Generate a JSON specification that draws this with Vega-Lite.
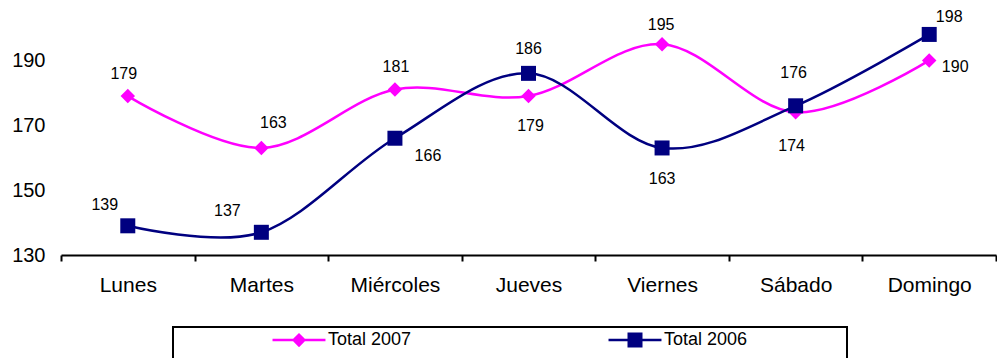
{
  "$schema": "https://vega.github.io/schema/vega-lite/v6.json",
  "width": 935,
  "height": 253,
  "autosize": "none",
  "padding": {"left": 61, "top": 2, "right": 1, "bottom": 103},
  "background": "white",
  "config": {
    "view": {"stroke": null},
    "font": "Liberation Sans",
    "text": {"font": "Liberation Sans", "fontSize": 16, "color": "black"}
  },
  "data": {
    "values": [
      {"day": "Lunes", "series": "Total 2007", "value": 179},
      {"day": "Martes", "series": "Total 2007", "value": 163},
      {"day": "Miércoles", "series": "Total 2007", "value": 181},
      {"day": "Jueves", "series": "Total 2007", "value": 179},
      {"day": "Viernes", "series": "Total 2007", "value": 195},
      {"day": "Sábado", "series": "Total 2007", "value": 174},
      {"day": "Domingo", "series": "Total 2007", "value": 190},
      {"day": "Lunes", "series": "Total 2006", "value": 139},
      {"day": "Martes", "series": "Total 2006", "value": 137},
      {"day": "Miércoles", "series": "Total 2006", "value": 166},
      {"day": "Jueves", "series": "Total 2006", "value": 186},
      {"day": "Viernes", "series": "Total 2006", "value": 163},
      {"day": "Sábado", "series": "Total 2006", "value": 176},
      {"day": "Domingo", "series": "Total 2006", "value": 198}
    ]
  },
  "encoding": {
    "x": {
      "field": "day", "type": "nominal",
      "scale": {"type": "band", "domain": ["Lunes", "Martes", "Miércoles", "Jueves", "Viernes", "Sábado", "Domingo"], "paddingInner": 0, "paddingOuter": 0},
      "axis": {
        "title": null, "labelAngle": 0, "labelFontSize": 21, "labelFont": "Liberation Sans", "labelColor": "black",
        "labelPadding": 13, "domainColor": "black", "domainWidth": 2, "tickColor": "black", "tickWidth": 2,
        "tickSize": 6, "tickBand": "extent", "grid": false
      }
    },
    "y": {
      "field": "value", "type": "quantitative",
      "scale": {"domain": [130, 208], "nice": false, "zero": false},
      "axis": {
        "title": null, "values": [130, 150, 170, 190], "domain": false, "ticks": false, "grid": false,
        "labelFontSize": 20, "labelFont": "Liberation Sans", "labelColor": "black", "labelPadding": 16
      }
    }
  },
  "layer": [
    {
      "mark": {"type": "line", "interpolate": "cardinal", "strokeWidth": 2.5},
      "encoding": {
        "color": {
          "field": "series", "type": "nominal",
          "scale": {"domain": ["Total 2007", "Total 2006"], "range": ["#FF00FF", "#000080"]},
          "legend": {
            "title": "\u00a0\u00a0\u200b", "titleOrient": "bottom", "titlePadding": 6, "titleFontSize": 12,
            "orient": "none", "legendX": 112, "legendY": 325, "direction": "horizontal",
            "padding": 4, "strokeColor": "black",
            "symbolSize": 225, "symbolOffset": 113, "labelOffset": 20, "columnPadding": 6,
            "labelFontSize": 18, "labelFont": "Liberation Sans", "labelColor": "black", "labelLimit": 400,
            "labelExpr": "datum.label + '\u00a0\u00a0\u00a0\u00a0\u00a0\u00a0\u00a0\u00a0\u00a0\u00a0\u00a0\u00a0\u00a0\u00a0\u00a0\u00a0\u00a0\u00a0\u00a0\u200b'",
            "encode": {
              "legend": {"update": {"strokeWidth": {"value": 2}}},
              "symbols": {
                "update": {
                  "shape": {"signal": "datum.value === 'Total 2007' ? 'M-3.53,-0.17L3.53,-0.17L3.53,0.17L-3.53,0.17Z M0,-0.95L0.95,0L0,0.95L-0.95,0Z' : 'M-3.53,-0.17L3.53,-0.17L3.53,0.17L-3.53,0.17Z M-1,-1L1,-1L1,1L-1,1Z'"},
                  "fill": {"signal": "datum.value === 'Total 2007' ? '#FF00FF' : '#000080'"},
                  "stroke": {"value": "transparent"},
                  "strokeWidth": {"value": 0},
                  "opacity": {"value": 1}
                }
              }
            }
          }
        }
      }
    },
    {
      "transform": [{"filter": "datum.series === 'Total 2007'"}],
      "mark": {"type": "point", "filled": true, "shape": "diamond", "size": 210, "opacity": 1, "color": "#FF00FF"}
    },
    {
      "transform": [{"filter": "datum.series === 'Total 2006'"}],
      "mark": {"type": "point", "filled": true, "shape": "square", "size": 225, "opacity": 1, "color": "#000080"}
    },
    {"transform": [{"filter": "datum.series === 'Total 2007' && datum.day === 'Lunes'"}], "mark": {"type": "text", "dx": -4, "dy": -22}, "encoding": {"text": {"field": "value"}}},
    {"transform": [{"filter": "datum.series === 'Total 2007' && datum.day === 'Martes'"}], "mark": {"type": "text", "dx": 12, "dy": -25}, "encoding": {"text": {"field": "value"}}},
    {"transform": [{"filter": "datum.series === 'Total 2007' && datum.day === 'Miércoles'"}], "mark": {"type": "text", "dx": 1, "dy": -23}, "encoding": {"text": {"field": "value"}}},
    {"transform": [{"filter": "datum.series === 'Total 2007' && datum.day === 'Jueves'"}], "mark": {"type": "text", "dx": 2, "dy": 30}, "encoding": {"text": {"field": "value"}}},
    {"transform": [{"filter": "datum.series === 'Total 2007' && datum.day === 'Viernes'"}], "mark": {"type": "text", "dx": -1, "dy": -19}, "encoding": {"text": {"field": "value"}}},
    {"transform": [{"filter": "datum.series === 'Total 2007' && datum.day === 'Sábado'"}], "mark": {"type": "text", "dx": -4, "dy": 34}, "encoding": {"text": {"field": "value"}}},
    {"transform": [{"filter": "datum.series === 'Total 2007' && datum.day === 'Domingo'"}], "mark": {"type": "text", "dx": 26, "dy": 7}, "encoding": {"text": {"field": "value"}}},
    {"transform": [{"filter": "datum.series === 'Total 2006' && datum.day === 'Lunes'"}], "mark": {"type": "text", "dx": -23, "dy": -21}, "encoding": {"text": {"field": "value"}}},
    {"transform": [{"filter": "datum.series === 'Total 2006' && datum.day === 'Martes'"}], "mark": {"type": "text", "dx": -34, "dy": -21}, "encoding": {"text": {"field": "value"}}},
    {"transform": [{"filter": "datum.series === 'Total 2006' && datum.day === 'Miércoles'"}], "mark": {"type": "text", "dx": 33, "dy": 18}, "encoding": {"text": {"field": "value"}}},
    {"transform": [{"filter": "datum.series === 'Total 2006' && datum.day === 'Jueves'"}], "mark": {"type": "text", "dx": 0, "dy": -24}, "encoding": {"text": {"field": "value"}}},
    {"transform": [{"filter": "datum.series === 'Total 2006' && datum.day === 'Viernes'"}], "mark": {"type": "text", "dx": 0, "dy": 31}, "encoding": {"text": {"field": "value"}}},
    {"transform": [{"filter": "datum.series === 'Total 2006' && datum.day === 'Sábado'"}], "mark": {"type": "text", "dx": -2, "dy": -33}, "encoding": {"text": {"field": "value"}}},
    {"transform": [{"filter": "datum.series === 'Total 2006' && datum.day === 'Domingo'"}], "mark": {"type": "text", "dx": 20, "dy": -17}, "encoding": {"text": {"field": "value"}}}
  ]
}
